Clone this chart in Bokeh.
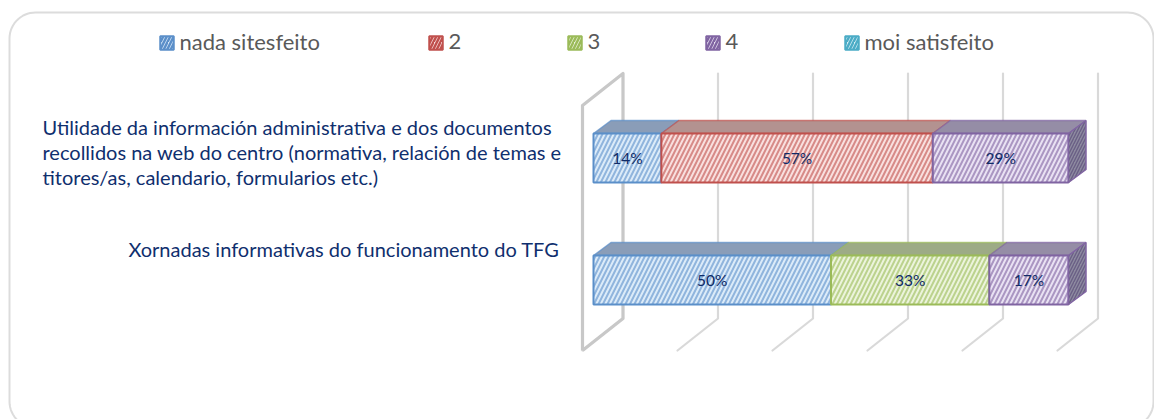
import numpy as np
from bokeh.plotting import figure
from bokeh.models import Range1d
from bokeh.core.properties import value
from bokeh.embed import file_html
from bokeh.resources import INLINE

# ---- data (top category is listed first) ----
categories = [
    ["Utilidade da información administrativa e dos documentos",
     "recollidos na web do centro (normativa, relación de temas e",
     "titores/as, calendario, formularios etc.)"],
    ["Xornadas informativas do funcionamento do TFG"],
]
series_names = ["nada sitesfeito", "2", "3", "4", "moi satisfeito"]
nada = [14.29, 50.0]
dous = [57.14, 0.0]
tres = [0.0, 33.33]
catro = [28.57, 16.67]
moi = [0.0, 0.0]
ticks = [0, 20, 40, 60, 80, 100]

series = [nada, dous, tres, catro, moi]
edge = ["#5b8fc9", "#c0504d", "#9bbb59", "#8064a2", "#4bacc6"]
face = ["#dcebf9", "#f9e0df", "#ecf4dc", "#e9e2f3", "#d9f0f6"]
top = ["#8a9db8", "#b39290", "#9dab86", "#958da6", "#8aa8b3"]

W, H = 1154, 419
X0, PXW = 593.0, 4.75     # pixel of 0 %, pixels per %
Y_UP, PYH = 157.5, 122.0  # pixel row of the upper category, pixels per category

p = figure(width=W, height=H, output_backend="svg", toolbar_location=None,
           x_range=Range1d(-X0 / PXW, (W - X0) / PXW),
           y_range=Range1d(Y_UP / PYH + 1 - H / PYH, Y_UP / PYH + 1),
           min_border=0, min_border_left=0, min_border_right=0,
           min_border_top=0, min_border_bottom=0,
           outline_line_color=None, background_fill_color="white",
           border_fill_color="white")
p.axis.visible = False
p.grid.visible = False

def px(x_pixels):            # x offset in pixels -> data units
    return x_pixels / PXW
def py(y_pixels):            # y offset in pixels (upwards) -> data units
    return y_pixels / PYH
def X(pixel):
    return (pixel - X0) / PXW
def Y(pixel):
    return 1 + (Y_UP - pixel) / PYH

# chart frame: rounded rectangle running off the bottom of the picture
L_, R_, T_, B_, RAD = 9.0, 1153.0, 12.0, 427.0, 26.0
ang = np.linspace(0, np.pi / 2, 16)
fx = np.concatenate([L_ + RAD - RAD * np.cos(ang), R_ - RAD + RAD * np.sin(ang),
                     R_ - RAD + RAD * np.cos(ang), L_ + RAD - RAD * np.sin(ang), [L_]])
fy = np.concatenate([T_ + RAD - RAD * np.sin(ang), T_ + RAD - RAD * np.cos(ang),
                     B_ - RAD + RAD * np.sin(ang), B_ - RAD + RAD * np.cos(ang), [T_ + RAD]])
p.line(X(fx), Y(fy), line_color="#dcdcdc", line_width=2)

# 3D walls: a floor tick and an upright for every axis tick
DX_F, DX_B = -11.0, 29.5
y_floor_f, y_floor_b, y_top_b = Y(350), Y(318), Y(73)
for t in ticks:
    xf, xb = t + px(DX_F), t + px(DX_B)
    p.line([xf, xb, xb], [y_floor_f, y_floor_b, y_top_b],
           line_color="#d9d9d9", line_width=2.2, line_cap="round")
# thick left wall
x0f, x0b = ticks[0] + px(DX_F), ticks[0] + px(DX_B)
p.line([x0f, x0f, x0b, x0b, x0f],
       [y_floor_f, Y(105), y_top_b, y_floor_b, y_floor_f],
       line_color="#c8c8c8", line_width=3.2, line_join="round")

# bars
rows = [1, 0]
HALF = 24.5 / PYH
DX, DY = px(17.5), py(13)
for r, row in enumerate(rows):
    left = 0.0
    for s, vals in enumerate(series):
        v = vals[r]
        if v <= 0:
            continue
        right = left + v
        p.patch([left, right, right + DX, left + DX],
                [row + HALF, row + HALF, row + HALF + DY, row + HALF + DY],
                fill_color=top[s], line_color=edge[s], line_width=1.5, line_alpha=0.7)
        p.hbar(y=[row], left=[left], right=[right], height=2 * HALF,
               fill_color=face[s], line_color=edge[s], line_width=2,
               hatch_pattern="right_diagonal_line", hatch_color=edge[s],
               hatch_alpha=0.6, hatch_scale=9, hatch_weight=2)
        p.text([left + v / 2], [row], text=[f"{round(v)}%"], text_align="center",
               text_baseline="middle", text_font=value("Lato"),
               text_font_size="15.5px", text_color="#0f2a66")
        last_s, last_right = s, right
        left = right
    p.patch([last_right, last_right + DX, last_right + DX, last_right],
            [row + HALF, row + HALF + DY, row - HALF + DY, row - HALF],
            fill_color="#8d8aa0", line_color=edge[last_s], line_width=1.5,
            hatch_pattern="right_diagonal_line", hatch_color="#6a5f85",
            hatch_scale=6, hatch_weight=1.4)

# category labels
LINE_H = 25
for k, line in enumerate(categories[0]):
    p.text([X(42)], [Y(126 + k * LINE_H)], text=[line], text_align="left",
           text_baseline="middle", text_font=value("Lato"),
           text_font_size="20px", text_color="#0f2f6e")
p.text([X(559)], [Y(248)], text=categories[1], text_align="right",
       text_baseline="middle", text_font=value("Lato"),
       text_font_size="20px", text_color="#0f2f6e")

# legend
sw = [159, 428, 567, 705, 844]
for s, name in enumerate(series_names):
    p.rect([X(sw[s] + 7.5)], [Y(42.5)], width=px(13.5), height=py(13.5),
           fill_color=face[s], line_color=edge[s], line_width=2,
           hatch_pattern="right_diagonal_line", hatch_color=edge[s],
           hatch_scale=7, hatch_weight=2.5)
    p.text([X(sw[s] + 20)], [Y(41)], text=[name], text_align="left",
           text_baseline="middle", text_font=value("Lato"),
           text_font_size="22px", text_color="#595959")

open("out.html", "w").write(file_html(p, INLINE))
